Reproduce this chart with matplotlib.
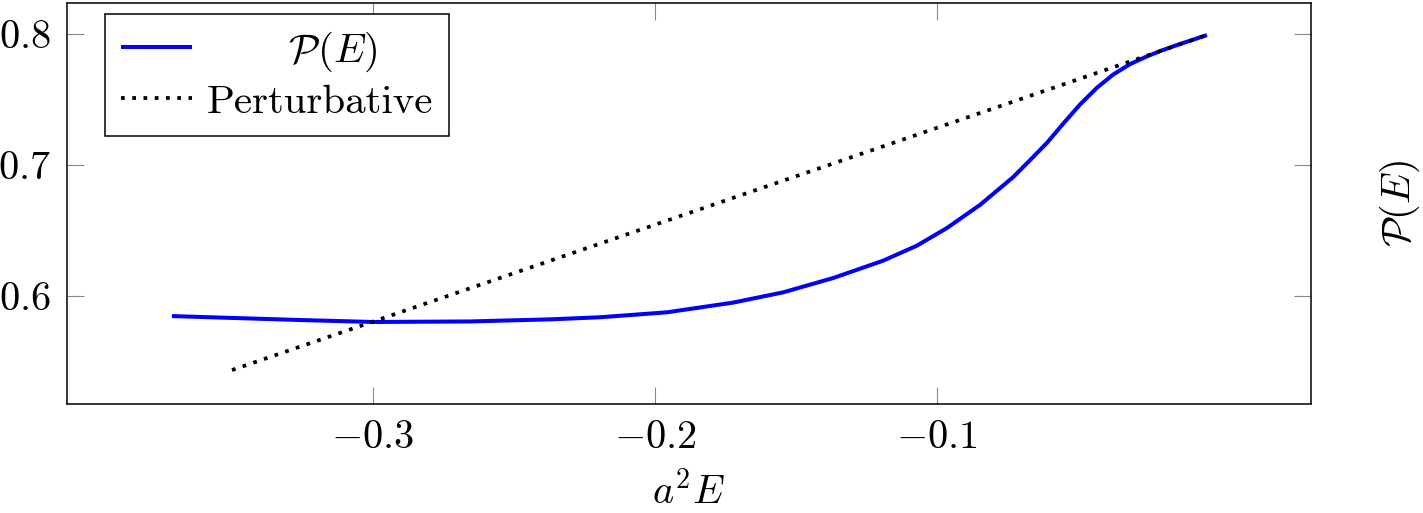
import numpy as np
import matplotlib
matplotlib.use("Agg")
import matplotlib.pyplot as plt

# values
energy = [-0.3713, -0.3259, -0.3000, -0.2656, -0.2372, -0.2195, -0.1957,
          -0.1723, -0.1546, -0.1369, -0.1191, -0.1071, -0.0965, -0.0848,
          -0.0730, -0.0670, -0.0610, -0.0553, -0.0493, -0.0433, -0.0376,
          -0.0316, -0.0255, -0.0199, -0.0138, -0.0043]
p_of_e = [0.5847, 0.5817, 0.5802, 0.5806, 0.5822, 0.5838, 0.5876,
          0.5950, 0.6028, 0.6137, 0.6270, 0.6385, 0.6519, 0.6695,
          0.6908, 0.7038, 0.7170, 0.7315, 0.7462, 0.7590, 0.7690,
          0.7770, 0.7830, 0.7878, 0.7924, 0.7992]

pert_energy = [-0.35, -0.0043]
pert_values = [0.5435, 0.7992]

xticks = [-0.3, -0.2, -0.1]
yticks = [0.6, 0.7, 0.8]

plt.rcParams['mathtext.fontset'] = 'cm'
plt.rcParams['font.family'] = ['cmr10', 'DejaVu Serif']
plt.rcParams['axes.unicode_minus'] = False

fig = plt.figure(figsize=(14.23, 5.13), dpi=100)
ax = fig.add_axes([0.0471, 0.2125, 0.8742, 0.7817])

ax.plot(energy, p_of_e, color='#0000ff', lw=2.9, label=r'      $\mathcal{P}(E)$',
        solid_capstyle='butt', solid_joinstyle='round')
ax.plot(pert_energy, pert_values, color='black', lw=2.7, dashes=(1, 2),
        dash_capstyle='butt', label='Perturbative')

ax.set_xlim(-0.4085, 0.0326)
ax.set_ylim(0.5176, 0.8237)

ax.set_xticks(xticks)
ax.set_xticklabels([r'$-%.1f$' % -v for v in xticks])
ax.set_yticks(yticks)
ax.set_yticklabels([r'$%.1f$' % v for v in yticks])
ax.tick_params(direction='in', length=12, width=0.8, color='#888888',
               top=True, right=True, labelsize=29, pad=12)

for s in ax.spines.values():
    s.set_linewidth(1.1)

ax.set_xlabel(r'$a^2E$', fontsize=29, labelpad=11)
ax.yaxis.set_label_position('right')
ax.set_ylabel(r'$\mathcal{P}(E)$', fontsize=29, labelpad=48)

leg = ax.legend(loc='upper left', bbox_to_anchor=(0.0305, 0.9726), fontsize=29.5,
                frameon=True, fancybox=False, edgecolor='black', framealpha=1,
                borderpad=0.38, handlelength=1.75, handletextpad=0.35,
                labelspacing=0.25, borderaxespad=0)
leg.get_frame().set_linewidth(1.1)

fig.savefig('out.png', dpi=100)
